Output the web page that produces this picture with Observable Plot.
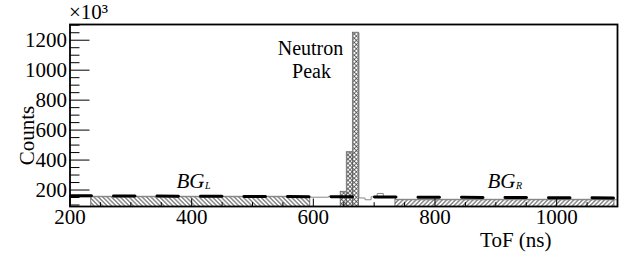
<!DOCTYPE html>
<html><head><meta charset="utf-8">
<script src="https://cdn.jsdelivr.net/npm/d3@7"></script>
<script src="https://cdn.jsdelivr.net/npm/@observablehq/plot@0.6"></script>
<style>html,body{margin:0;padding:0;background:#fff;}</style>
</head><body><div id="chart"></div>
<script>
// ---- data (ToF histogram, counts in units of 10^3) ----
const histStart = [195, 595, 625, 645, 655, 665, 675, 685, 695, 705, 715, 735];
const histEnd   = [595, 625, 645, 655, 665, 675, 685, 695, 705, 715, 735, 1105];
const histCount = [155, 152, 158, 188, 452, 1250, 147, 135, 155, 177, 150, 135];

const regionName  = ["BG_L", "Peak", "BG_R"];
const regionStart = [235, 645, 735];
const regionEnd   = [595, 675, 1095];

const fitX = [200, 1100];
const fitY = [162, 147];

const yMajor = [200, 400, 600, 800, 1000, 1200];
const yMinor = [100, 150, 250, 300, 350, 450, 500, 550, 650, 700, 750, 850, 900, 950, 1050, 1100, 1150, 1250, 1300];
const xMajor = [200, 400, 600, 800, 1000];
const xMinor = [250, 300, 350, 450, 500, 550, 650, 700, 750, 850, 900, 950, 1050];

// ---- layout / style ----
const W = 633, H = 257;
const mL = 69.5, mR = 16, mT = 24, mB = 51;
const frameW = W - mL - mR, frameH = H - mT - mB;
const font = "Liberation Serif";
const FS = 21;
const patternOf = {BG_L: "url(#hatchL)", Peak: "url(#cross)", BG_R: "url(#hatchR)"};

const bins = histStart.map((s, i) => ({x1: s, x2: histEnd[i], y: histCount[i]}));
const outline = [];
bins.forEach(b => { outline.push({x: b.x1, y: b.y}); outline.push({x: b.x2, y: b.y}); });
const fills = [];
regionName.forEach((name, r) => {
  bins.forEach(b => {
    const a = Math.max(b.x1, regionStart[r]), e = Math.min(b.x2, regionEnd[r]);
    if (e > a) fills.push({x1: a, x2: e, y: b.y, region: name});
  });
});
const fit = fitX.map((x, i) => ({x, y: fitY[i]}));

const txt = {fontFamily: font};
const svg = Plot.plot({
  width: W, height: H,
  marginLeft: mL, marginRight: mR, marginTop: mT, marginBottom: mB,
  style: {fontFamily: font, fontSize: FS + "px", color: "black", background: "white"},
  x: {domain: [200, 1100]},
  y: {domain: [90, 1305]},
  marks: [
    Plot.rectY(fills, {x1: "x1", x2: "x2", y: "y", fill: d => patternOf[d.region], stroke: "#555", strokeWidth: 0.8, clip: true}),
    Plot.line(outline, {x: "x", y: "y", stroke: "#888", strokeWidth: 1, clip: true}),
    Plot.line(fit, {x: "x", y: "y", stroke: "black", strokeWidth: 3, strokeDasharray: "21.5 22", clip: true}),
    Plot.tickY(yMajor, {y: d => d, insetRight: frameW - 20, stroke: "black", strokeWidth: 1}),
    Plot.tickY(yMinor, {y: d => d, insetRight: frameW - 10, stroke: "black", strokeWidth: 1}),
    Plot.tickX(xMajor, {x: d => d, insetTop: frameH - 7.5, stroke: "black", strokeWidth: 1}),
    Plot.tickX(xMinor, {x: d => d, insetTop: frameH - 3.8, stroke: "black", strokeWidth: 1}),
    Plot.axisY({ticks: yMajor, tickSize: 0, tickPadding: 3, label: null, tickFormat: d => String(d), fontSize: FS, fontVariant: "normal", ...txt}),
    Plot.axisX({ticks: xMajor, tickSize: 0, tickPadding: 3, label: null, tickFormat: d => String(d), fontSize: FS, fontVariant: "normal", ...txt}),
    Plot.frame({stroke: "black", strokeWidth: 1.8}),
    Plot.text(["×10³"], {frameAnchor: "top-left", textAnchor: "start", lineAnchor: "bottom", dx: -1, dy: -5.5, fontSize: FS, ...txt}),
    Plot.text(["Counts"], {frameAnchor: "left", rotate: -90, dx: -42.5, dy: 20, textAnchor: "middle", lineAnchor: "middle", fontSize: FS, ...txt}),
    Plot.text(["ToF (ns)"], {frameAnchor: "bottom-right", textAnchor: "end", lineAnchor: "bottom", dx: -66, dy: 40, fontSize: FS, ...txt}),
    Plot.text(["Neutron"], {frameAnchor: "top-left", textAnchor: "middle", lineAnchor: "bottom", dx: 240.5, dy: 30.5, fontSize: 20, ...txt}),
    Plot.text(["Peak"], {frameAnchor: "top-left", textAnchor: "middle", lineAnchor: "bottom", dx: 241.5, dy: 53.5, fontSize: 20, ...txt}),
    Plot.text(["BG"], {frameAnchor: "bottom-left", textAnchor: "end", lineAnchor: "bottom", dx: 134.5, dy: -19, fontSize: FS, fontStyle: "italic", ...txt}),
    Plot.text(["L"], {frameAnchor: "bottom-left", textAnchor: "start", lineAnchor: "bottom", dx: 135, dy: -17.5, fontSize: 10, fontStyle: "italic", ...txt}),
    Plot.text(["BG"], {frameAnchor: "bottom-left", textAnchor: "end", lineAnchor: "bottom", dx: 445.5, dy: -19, fontSize: FS, fontStyle: "italic", ...txt}),
    Plot.text(["R"], {frameAnchor: "bottom-left", textAnchor: "start", lineAnchor: "bottom", dx: 446, dy: -17.5, fontSize: 10, fontStyle: "italic", ...txt})
  ]
});

const NS = "http://www.w3.org/2000/svg";
const defs = document.createElementNS(NS, "defs");
defs.innerHTML = `
<pattern id="hatchL" patternUnits="userSpaceOnUse" width="3.1" height="3.1" patternTransform="rotate(-45)">
  <rect width="3.1" height="3.1" fill="white"/><line x1="1.55" y1="0" x2="1.55" y2="3.1" stroke="#333" stroke-width="0.85"/></pattern>
<pattern id="hatchR" patternUnits="userSpaceOnUse" width="3.1" height="3.1" patternTransform="rotate(45)">
  <rect width="3.1" height="3.1" fill="white"/><line x1="1.55" y1="0" x2="1.55" y2="3.1" stroke="#333" stroke-width="0.85"/></pattern>
<pattern id="cross" patternUnits="userSpaceOnUse" width="3" height="3" patternTransform="rotate(45)">
  <rect width="3" height="3" fill="white"/><line x1="1.5" y1="0" x2="1.5" y2="3" stroke="#333" stroke-width="0.7"/><line x1="0" y1="1.5" x2="3" y2="1.5" stroke="#333" stroke-width="0.7"/></pattern>`;
svg.insertBefore(defs, svg.firstChild);
svg.setAttribute("font-family", font);
svg.querySelectorAll("text, g").forEach(t => { t.setAttribute("font-family", font); t.style.fontVariantNumeric = "normal"; });
document.getElementById("chart").appendChild(svg);
</script>
</body></html>
